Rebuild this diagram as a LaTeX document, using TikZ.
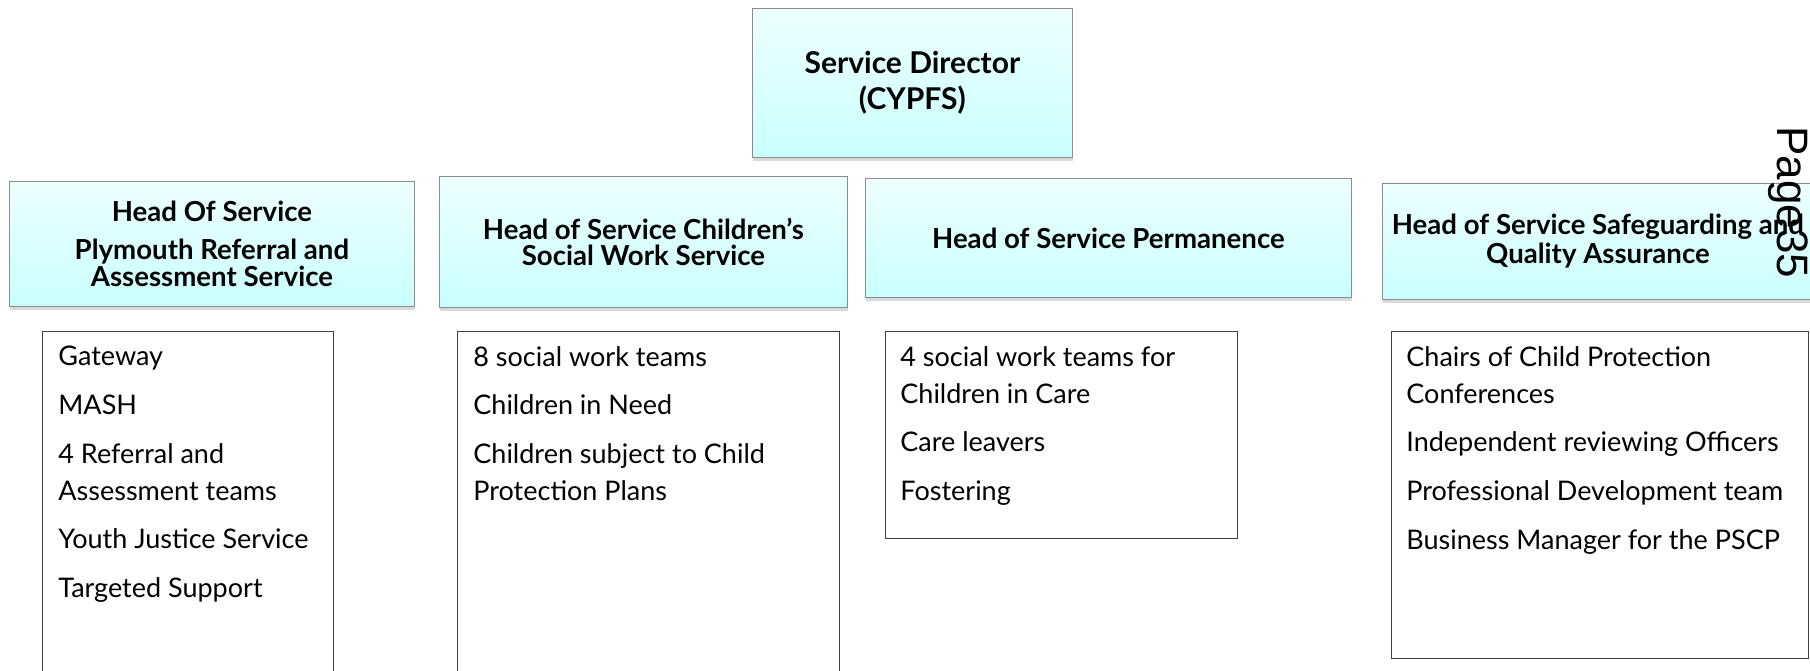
\documentclass[tikz,border=0pt]{standalone}
\usepackage{fontspec}
\setmainfont{Lato}
\newfontfamily\pagefont{Liberation Sans}
\usetikzlibrary{positioning,shadows}

\begin{document}
\begin{tikzpicture}[x=0.5pt,y=-0.5pt,
  head/.style={draw=gray!90, top color=cyan!7, bottom color=cyan!21,
    drop shadow={shadow xshift=0.5pt,shadow yshift=-2pt,opacity=0.3},
    anchor=north west, align=center, inner sep=0pt,
    font=\bfseries\fontsize{13.8}{13}\selectfont},
  listbox/.style={draw=black!75, anchor=north west, inner sep=0pt},
  items/.style={anchor=north west, align=left, inner sep=0pt,
    font=\fontsize{13.5}{18.5}\selectfont}]
\useasboundingbox (0,0) rectangle (1810,670);
% top box
\node[head,minimum width=160pt,minimum height=74.5pt,font=\bfseries\fontsize{15}{18}\selectfont] (sd) at (752,8) {Service Director\\(CYPFS)};
% heads of service
\node[head,minimum width=202.5pt,minimum height=62.5pt,font=\bfseries\fontsize{13.8}{11.5}\selectfont] (hpras) at (9,181) {Head Of Service\\[7.5pt]Plymouth Referral and\\Assessment Service};
\node[head,minimum width=204pt,minimum height=65.5pt] (hcsws) at (439,176) {Head of Service Children's\\Social Work Service};
\node[head,minimum width=243pt,minimum height=59.5pt] (hperm) at (865,178) {Head of Service Permanence};
\node[head,minimum width=215.5pt,minimum height=58pt,font=\bfseries\fontsize{13.8}{14.5}\selectfont] (hsqa) at (1382,182.5) {Head of Service Safeguarding and\\Quality Assurance};
% team lists
\node[listbox,minimum width=145.5pt,minimum height=184.5pt] (lpras) at (42,331) {};
\node[listbox,minimum width=191pt,minimum height=184.5pt] (lcsws) at (457,331) {};
\node[listbox,minimum width=176pt,minimum height=103.5pt] (lperm) at (885,331) {};
\node[listbox,minimum width=208.5pt,minimum height=163.5pt] (lsqa) at (1391,331) {};
\node[items] (tpras) at ([shift={(8pt,-7.5pt)}]lpras.north west) {Gateway\\[5.8pt]MASH\\[5.8pt]4 Referral and\\Assessment teams\\[5.8pt]Youth Justice Service\\[5.8pt]Targeted Support};
\node[items] (tcsws) at ([shift={(8pt,-7.5pt)}]lcsws.north west) {8 social work teams\\[5.8pt]Children in Need\\[5.8pt]Children subject to Child\\Protection Plans};
\node[items] (tperm) at ([shift={(7.5pt,-7.5pt)}]lperm.north west) {4 social work teams for\\Children in Care\\[5.8pt]Care leavers\\[5.8pt]Fostering};
\node[items] (tsqa) at ([shift={(7.5pt,-7.5pt)}]lsqa.north west) {Chairs of Child Protection\\Conferences\\[5.8pt]Independent reviewing Officers\\[5.8pt]Professional Development team\\[5.8pt]Business Manager for the PSCP};
% page number
\node[rotate=-90,anchor=base west,inner sep=0pt,font=\pagefont\fontsize{22}{26}\selectfont] (pg) at (1777,126) {Page35};
\end{tikzpicture}
\end{document}
